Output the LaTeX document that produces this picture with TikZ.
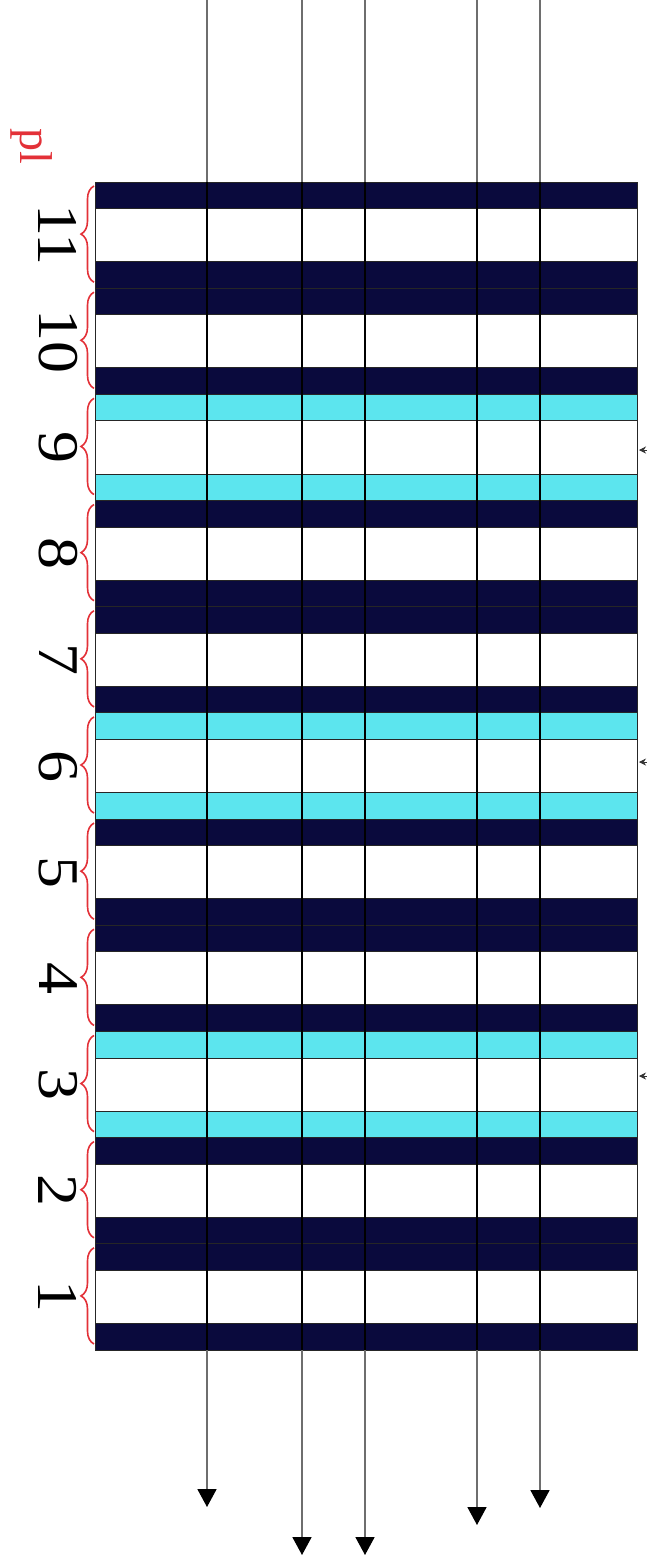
\documentclass[tikz,border=0pt]{standalone}
\usepackage{fontspec}
\setmainfont{Liberation Serif}
\usetikzlibrary{arrows.meta,decorations.pathreplacing,calc}
\definecolor{navy}{HTML}{0A0A3D}
\definecolor{aqua}{HTML}{5CE5EE}
\definecolor{penred}{HTML}{E33138}
\definecolor{raygray}{HTML}{6E6E6E}

\begin{document}
\begin{tikzpicture}[x=1pt, y=-1pt,
  layer/.style={draw=black!85, line width=0.9pt},
  gridline/.style={black, line width=1.6pt},
  ray/.style={-{Triangle[length=18pt,width=19pt,color=black]}, raygray, line width=1.8pt},
  period/.style={decorate, decoration={brace, amplitude=13pt}, penred, line width=1.6pt},
  num/.style={rotate=-90, inner sep=0pt, font=\fontsize{64}{64}\selectfont}
]
  \useasboundingbox (0,0) rectangle (646,1564);
  \fill[white] (0,0) rectangle (646,1564);

  % Stack: eleven periods, period 1 at the bottom
  \def\u{26.545}
  \foreach \k/\col in {1/navy,2/navy,3/aqua,4/navy,5/navy,6/aqua,7/navy,8/navy,9/aqua,10/navy,11/navy}{
    \pgfmathsetmacro{\ptop}{182+(11-\k)*4*\u}
    \filldraw[layer, fill=\col] (95,\ptop) rectangle (637,\ptop+\u);
    \filldraw[layer, fill=white] (95,\ptop+\u) rectangle (637,\ptop+3*\u);
    \filldraw[layer, fill=\col] (95,\ptop+3*\u) rectangle (637,\ptop+4*\u);
    % brace and period number
    \draw[period] (94,\ptop+4*\u-6) -- (94,\ptop+4);
    \node[num] (n\k) at (58,\ptop+2*\u) {\scalebox{1}[0.9]{\k}};
  }
  \node[rotate=-90, text=penred, font=\fontsize{46}{46}\selectfont] (pl) at (32,146) {pl};

  % Rays through the stack
  \foreach \i/\xx/\tip in {1/207/1507,2/302/1555,3/365/1555,4/477/1525,5/540/1508}{
    \coordinate (s\i) at (\xx,0);
    \coordinate (e\i) at (\xx,\tip);
    \coordinate (gt\i) at (\xx,182);
    \coordinate (gb\i) at (\xx,1350);
    \draw[ray] (s\i) -- (e\i);
    \draw[gridline] (gt\i) -- (gb\i);
  }

  % Marks cut at the right edge
  \foreach \j/\yy in {1/450,2/762,3/1076}{
    \coordinate (m\j) at (639,\yy);
    \coordinate (mo\j) at (660,\yy);
    \draw[-{Stealth[length=7pt,width=7pt]}, black!80, line width=0.6pt] (mo\j) -- (m\j);
  }
\end{tikzpicture}
\end{document}
